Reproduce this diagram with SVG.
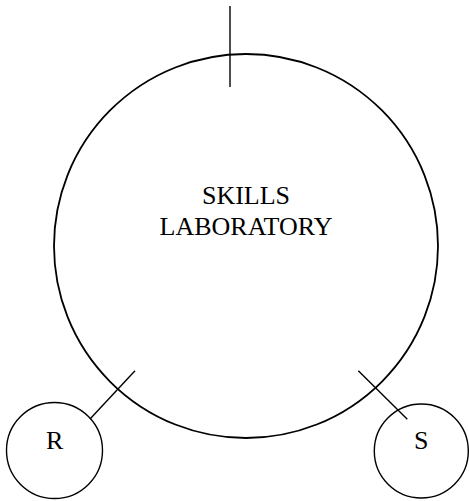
<svg xmlns="http://www.w3.org/2000/svg" width="469" height="501" viewBox="0 0 469 501">
<style>
.node circle{fill:none;stroke:#000}
.big{stroke-width:1.8}
.small{stroke-width:1.4}
.conn line{stroke:#000;stroke-width:1.4}
text{font-family:"Liberation Serif","Times New Roman",serif;font-size:26px;fill:#000;text-anchor:middle}
</style>
<rect width="469" height="501" fill="#fff"/>
<g id="skills-laboratory" class="node">
<circle class="big" cx="246" cy="246" r="192"/>
<text x="246" y="203.5">SKILLS</text>
<text x="246" y="235">LABORATORY</text>
</g>
<g id="node-r" class="node">
<circle class="small" cx="54.5" cy="450.5" r="48"/>
<text x="54.7" y="449.3">R</text>
</g>
<g id="node-s" class="node">
<circle class="small" cx="421.3" cy="451" r="47"/>
<text x="421.3" y="449.3">S</text>
</g>
<g id="connectors" class="conn">
<line x1="230" y1="6" x2="230" y2="87"/>
<line x1="90" y1="419" x2="135" y2="370.7"/>
<line x1="358.3" y1="370.7" x2="407.3" y2="419.3"/>
</g>
</svg>
